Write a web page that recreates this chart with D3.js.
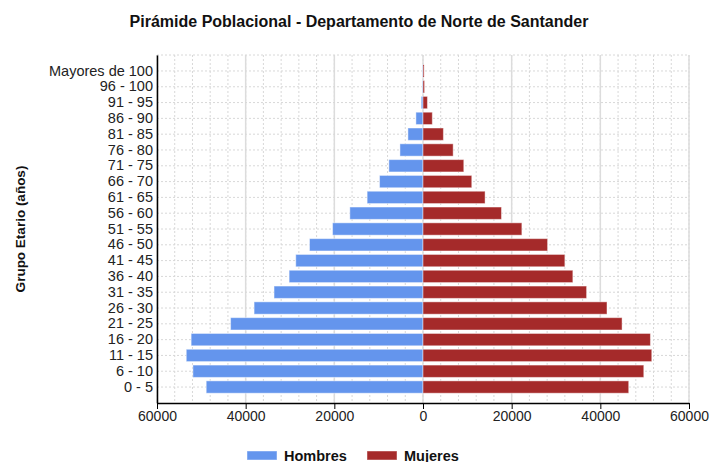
<!DOCTYPE html>
<html>
<head>
<meta charset="utf-8">
<script src="https://cdn.jsdelivr.net/npm/d3@7"></script>
<style>
  body { margin: 0; background: #fff; }
  text { font-family: "Liberation Sans", Arial, sans-serif; }
</style>
</head>
<body>
<div id="chart"></div>
<script>
// age groups, top to bottom as drawn
const grupos = ["Mayores de 100", "96 - 100", "91 - 95", "86 - 90", "81 - 85", "76 - 80",
  "71 - 75", "66 - 70", "61 - 65", "56 - 60", "51 - 55", "46 - 50", "41 - 45",
  "36 - 40", "31 - 35", "26 - 30", "21 - 25", "16 - 20", "11 - 15", "6 - 10", "0 - 5"];
const hombres = [100, 150, 400, 1600, 3400, 5200, 7700, 9800, 12600, 16500, 20400, 25600,
  28700, 30200, 33600, 38100, 43400, 52300, 53400, 51900, 48900];
const mujeres = [250, 350, 1000, 2100, 4600, 6800, 9200, 11000, 14000, 17700, 22300, 28100,
  32000, 33800, 36900, 41500, 44900, 51300, 51600, 49800, 46400];
const xTicks = [-60000, -40000, -20000, 0, 20000, 40000, 60000];
const series = ["Hombres", "Mujeres"];
const colores = ["#6495ed", "#a52a2a"];

const width = 712, height = 462;
const margin = { top: 55, right: 23, bottom: 59, left: 157 };

const svg = d3.select("#chart")
  .append("svg")
  .attr("width", width)
  .attr("height", height);

const x = d3.scaleLinear()
  .domain([-60000, 60000])
  .range([margin.left, width - margin.right]);

const y = d3.scaleBand()
  .domain(grupos)
  .range([margin.top, height - margin.bottom])
  .paddingInner(0.22)
  .paddingOuter(0.62);

// grid
const grid = svg.append("g");
grid.selectAll(".minor")
  .data(d3.range(-60000, 60001, 4000))
  .enter().append("line")
  .attr("x1", d => x(d)).attr("x2", d => x(d))
  .attr("y1", margin.top).attr("y2", height - margin.bottom)
  .attr("stroke", "#d8d8d8")
  .attr("stroke-dasharray", "2,2");
grid.selectAll(".major")
  .data(xTicks)
  .enter().append("line")
  .attr("x1", d => x(d)).attr("x2", d => x(d))
  .attr("y1", margin.top).attr("y2", height - margin.bottom)
  .attr("stroke", "#dcdcdc")
  .attr("stroke-width", 1.5);
grid.selectAll(".hline")
  .data(grupos)
  .enter().append("line")
  .attr("x1", margin.left).attr("x2", width - margin.right)
  .attr("y1", d => y(d) + y.bandwidth() / 2).attr("y2", d => y(d) + y.bandwidth() / 2)
  .attr("stroke", "#d8d8d8")
  .attr("stroke-dasharray", "2,2");
grid.append("line")
  .attr("x1", margin.left).attr("x2", width - margin.right)
  .attr("y1", margin.top).attr("y2", margin.top)
  .attr("stroke", "#d8d8d8")
  .attr("stroke-dasharray", "2,2");

// bars
svg.append("g").selectAll("rect")
  .data(hombres)
  .enter().append("rect")
  .attr("x", d => x(-d))
  .attr("y", (d, i) => y(grupos[i]))
  .attr("width", d => x(0) - x(-d))
  .attr("height", y.bandwidth())
  .attr("fill", colores[0])
  .attr("stroke", "#fff")
  .attr("stroke-opacity", 0.45);

svg.append("g").selectAll("rect")
  .data(mujeres)
  .enter().append("rect")
  .attr("x", x(0))
  .attr("y", (d, i) => y(grupos[i]))
  .attr("width", d => x(d) - x(0))
  .attr("height", y.bandwidth())
  .attr("fill", colores[1])
  .attr("stroke", "#fff")
  .attr("stroke-opacity", 0.45);

// axes
const xAxis = svg.append("g")
  .attr("transform", `translate(0,${height - margin.bottom})`)
  .call(d3.axisBottom(x).tickValues(xTicks).tickFormat(d => Math.abs(d))
    .tickSize(6).tickSizeOuter(0).tickPadding(2));
xAxis.select(".domain").attr("stroke", "#000").attr("stroke-width", 1.5);
xAxis.selectAll("text").attr("font-size", 14).attr("fill", "#222");

const yAxis = svg.append("g")
  .attr("transform", `translate(${margin.left},0)`)
  .call(d3.axisLeft(y).tickSize(0).tickPadding(4));
yAxis.select(".domain").attr("stroke", "#000").attr("stroke-width", 1.5);
yAxis.selectAll("text").attr("font-size", 14.5).attr("fill", "#222");

// title
svg.append("text")
  .attr("x", 359)
  .attr("y", 27)
  .attr("text-anchor", "middle")
  .attr("font-size", 16)
  .attr("font-weight", "bold")
  .attr("fill", "#111")
  .text("Pirámide Poblacional - Departamento de Norte de Santander");

svg.append("text")
  .attr("transform", `translate(25,${(margin.top + height - margin.bottom) / 2}) rotate(-90)`)
  .attr("text-anchor", "middle")
  .attr("font-size", 13.5)
  .attr("font-weight", "bold")
  .attr("fill", "#111")
  .text("Grupo Etario (años)");

// legend
const legend = svg.append("g").attr("transform", "translate(247,451)");
const legX = [0, 120];
series.forEach((s, i) => {
  legend.append("rect")
    .attr("x", legX[i]).attr("y", 0)
    .attr("width", 30).attr("height", 9)
    .attr("fill", colores[i])
    .attr("stroke", "#fff").attr("stroke-opacity", 0.45);
  legend.append("text")
    .attr("x", legX[i] + 37).attr("y", 9.5)
    .attr("font-size", 14.5)
    .attr("font-weight", "bold")
    .attr("fill", "#111")
    .text(s);
});
</script>
</body>
</html>
